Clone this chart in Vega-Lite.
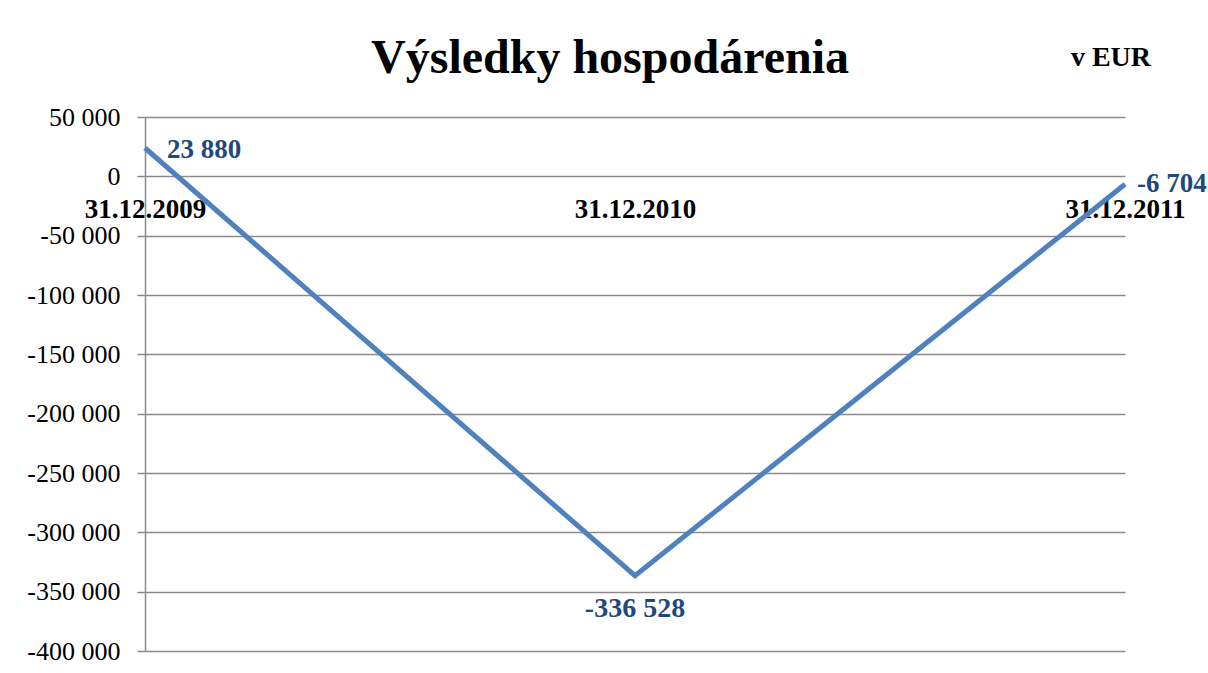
{
  "$schema": "https://vega.github.io/schema/vega-lite/v6.json",
  "width": 980,
  "height": 534,
  "autosize": "none",
  "padding": {"left": 145, "top": 117, "right": 83, "bottom": 22},
  "background": "white",
  "config": {
    "locale": {"number": {"decimal": ",", "thousands": " ", "grouping": [3], "currency": ["", ""], "minus": "-"}},
    "view": {"stroke": null},
    "font": "Liberation Serif"
  },
  "title": {
    "text": "Výsledky hospodárenia",
    "font": "Liberation Serif",
    "fontSize": 48,
    "fontWeight": "bold",
    "color": "black",
    "anchor": "middle",
    "dx": -25,
    "offset": -39
  },
  "data": {
    "values": [
      {"date": "31.12.2009", "value": 23880},
      {"date": "31.12.2010", "value": -336528},
      {"date": "31.12.2011", "value": -6704}
    ]
  },
  "encoding": {
    "x": {
      "field": "date",
      "type": "ordinal",
      "sort": null,
      "scale": {"type": "point", "padding": 0},
      "axis": {
        "orient": "bottom",
        "offset": -474.67,
        "domain": false,
        "ticks": false,
        "grid": false,
        "title": null,
        "labelAngle": 0,
        "labelFont": "Liberation Serif",
        "labelFontSize": 27,
        "labelFontWeight": "bold",
        "labelColor": "black",
        "labelPadding": 20,
        "labelOverlap": false,
        "labelFlush": false
      }
    },
    "y": {
      "field": "value",
      "type": "quantitative",
      "scale": {"domain": [-400000, 50000], "nice": false, "zero": false},
      "axis": {
        "values": [-400000, -350000, -300000, -250000, -200000, -150000, -100000, -50000, 0, 50000],
        "format": ",d",
        "title": null,
        "grid": true,
        "gridColor": "#8a8a8a",
        "gridWidth": 1.5,
        "domain": true,
        "domainColor": "#8a8a8a",
        "domainWidth": 1.5,
        "tickColor": "#8a8a8a",
        "tickWidth": 1.5,
        "tickSize": 8,
        "labelFont": "Liberation Serif",
        "labelFontSize": 26,
        "labelColor": "black",
        "labelPadding": 17
      }
    }
  },
  "layer": [
    {
      "mark": {"type": "line", "color": "#4F81BD", "strokeWidth": 5}
    },
    {
      "transform": [{"filter": "datum.date == '31.12.2009'"}],
      "mark": {"type": "text", "align": "left", "baseline": "middle", "dx": 22, "dy": 2, "font": "Liberation Serif", "fontSize": 27, "fontWeight": "bold", "color": "#1F497D"},
      "encoding": {"text": {"field": "value", "type": "quantitative", "format": ",d"}}
    },
    {
      "transform": [{"filter": "datum.date == '31.12.2010'"}],
      "mark": {"type": "text", "align": "center", "baseline": "middle", "dy": 33, "font": "Liberation Serif", "fontSize": 28, "fontWeight": "bold", "color": "#1F497D"},
      "encoding": {"text": {"field": "value", "type": "quantitative", "format": ",d"}}
    },
    {
      "transform": [{"filter": "datum.date == '31.12.2011'"}],
      "mark": {"type": "text", "align": "left", "baseline": "middle", "dx": 12, "dy": 0, "font": "Liberation Serif", "fontSize": 27, "fontWeight": "bold", "color": "#1F497D"},
      "encoding": {"text": {"field": "value", "type": "quantitative", "format": ",d"}}
    },
    {
      "data": {"values": [{"label": "v EUR", "date": "31.12.2011", "value": 100000}]},
      "mark": {"type": "text", "align": "center", "baseline": "middle", "dx": -14, "font": "Liberation Serif", "fontSize": 28, "fontWeight": "bold", "color": "black"},
      "encoding": {"text": {"field": "label", "type": "nominal"}}
    }
  ]
}
